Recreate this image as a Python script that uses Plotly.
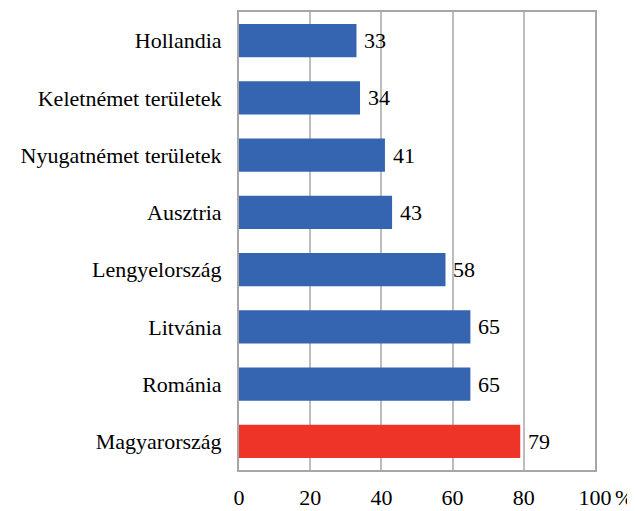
import plotly.graph_objects as go

categories = ["Hollandia", "Keletnémet területek", "Nyugatnémet területek", "Ausztria",
              "Lengyelország", "Litvánia", "Románia", "Magyarország"]
values = [33, 34, 41, 43, 58, 65, 65, 79]
tick_vals = [0, 20, 40, 60, 80, 100]
tick_text = ["0", "20", "40", "60", "80", "100"]

colors = ["#3565b1"] * (len(categories) - 1) + ["#ee3429"]
FONT = "Liberation Serif"
FS = 22

fig = go.Figure(go.Bar(
    x=values, y=categories, orientation="h",
    marker=dict(color=colors, line=dict(width=0)),
))

for cat, v in zip(categories, values):
    fig.add_annotation(x=v, y=cat, xref="x", yref="y", text=str(v), showarrow=False,
                       xanchor="left", yanchor="middle", xshift=6,
                       font=dict(family=FONT, size=FS, color="#000000"))

fig.update_layout(
    width=627, height=503,
    margin=dict(l=231, r=40, t=4, b=41, autoexpand=False),
    paper_bgcolor="white", plot_bgcolor="white",
    font=dict(family=FONT, size=FS, color="#000000"),
    bargap=0.42, showlegend=False,
)
fig.update_xaxes(
    range=[0, 100], tickvals=tick_vals, ticktext=tick_text,
    showgrid=True, gridcolor="#bdbdbd", gridwidth=1.5,
    showline=True, linecolor="#a6a6a6", linewidth=2, mirror=True,
    zeroline=False, ticks="", ticklabelstandoff=7,
    tickfont=dict(family=FONT, size=FS, color="#000000"),
)
fig.update_yaxes(
    categoryorder="array", categoryarray=categories[::-1],
    showline=True, linecolor="#a6a6a6", linewidth=2, mirror=True,
    showgrid=False, ticks="", ticklabelstandoff=11,
    tickfont=dict(family=FONT, size=FS, color="#000000"),
)
fig.add_annotation(x=100, y=0, xref="x", yref="paper", text="%", showarrow=False,
                   xanchor="left", yanchor="middle", xshift=18, yshift=-27,
                   font=dict(family=FONT, size=FS, color="#000000"))
fig.write_html("out.html")
